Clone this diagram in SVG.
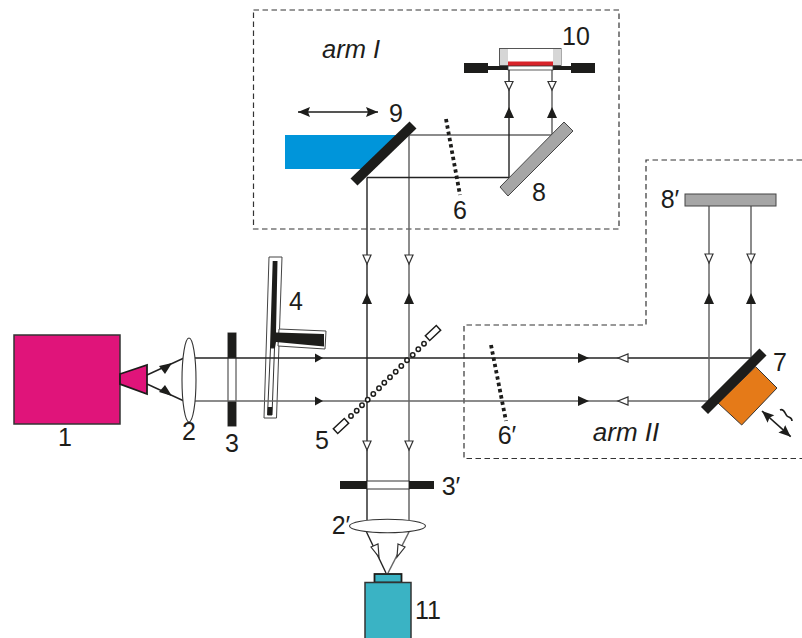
<svg xmlns="http://www.w3.org/2000/svg" width="802" height="638" viewBox="0 0 802 638">
<defs>
<marker id="bk" markerUnits="userSpaceOnUse" markerWidth="13" markerHeight="12" refX="12" refY="6" orient="auto"><path d="M0,1L12,6L0,11L2,6Z" fill="#1d1d1b"/></marker>
<marker id="bks" markerUnits="userSpaceOnUse" markerWidth="13" markerHeight="12" refX="0" refY="6" orient="auto"><path d="M12,1L0,6L12,11L10,6Z" fill="#1d1d1b"/></marker>
</defs>
<style>
text{font-family:"Liberation Sans",Arial,sans-serif;font-size:25px;fill:#1d1d1b;text-anchor:middle}
.it{font-style:italic;font-size:26px}
.dash{fill:none;stroke:#333;stroke-width:1.2;stroke-dasharray:5.5 3.5}
.b1{fill:none;stroke:#222;stroke-width:1.4}
.b2{fill:none;stroke:#666;stroke-width:1.5}
.bl{fill:#1d1d1b}
.op{fill:#fff;stroke:#333;stroke-width:1.2}
.ln{fill:#fff;stroke:#333;stroke-width:1.1}
.dots{fill:none;stroke:#1d1d1b;stroke-width:3.8;stroke-dasharray:3.4 3}
.dbl{fill:none;stroke:#1d1d1b;stroke-width:1.6}
.bsd{fill:#fff;stroke:#1d1d1b;stroke-width:1.5}
</style>
<rect width="802" height="638" fill="#fff"/>
<g id="boundaries">
<rect class="dash" x="253.5" y="10" width="365.5" height="219"/>
<path class="dash" d="M802,160H646V325H464V458.5H802"/>
</g>
<g id="node-9-slab"><path d="M285,135H402L368,169H285Z" fill="#0095da"/></g>
<g id="node-4">
<path d="M269,257L282,257L276.500,418L264,418Z" fill="#fff" stroke="#444" stroke-width="1"/>
<path d="M279,329L326,331L325,349L278,346Z" fill="#fff" stroke="#444" stroke-width="1"/>
<path class="bl" d="M272.700,261H277.500L276,332.500L324,334V346.500L276,342L275,348H270Z"/>
<path d="M270.500,348H274.500L272,415H267.500Z" fill="#fff" stroke="#333" stroke-width="1"/>
<path class="bl" d="M267.800,407H272.300L272,415H267.500Z"/>
<text x="296" y="310">4</text></g>
<g id="node-3"><rect x="228" y="333" width="8" height="93" fill="#fff" stroke="#333" stroke-width="1"/>
<rect class="bl" x="228" y="333" width="8" height="25"/><rect class="bl" x="228" y="401" width="8" height="25"/>
<text x="232" y="452">3</text></g>
<g id="connectors">
<path class="b1" d="M194,358H751"/>
<path class="b2" d="M751,358V206"/>
<path class="b2" d="M194,401H709V206"/>
<path class="b1" d="M367,177.500V520"/>
<path class="b2" d="M409,135V520"/>
<path class="b2" d="M409,135H552V68"/>
<path class="b1" d="M367,177.500H509V68"/>
<path class="b1" d="M147,375L184,358"/>
<path class="b1" d="M147,384L184,401"/>
<path class="b1" d="M366.500,532L386,573"/>
<path class="b2" d="M409,532L388,573"/>
<g class="bl">
<path d="M504,118L509,107L514,118Z"/><path d="M547,118L552,107L557,118Z"/>
<path d="M362,304L367,293L372,304Z"/><path d="M404,304L409,293L414,304Z"/>
<path d="M704,304L709,293L714,304Z"/><path d="M746,304L751,293L756,304Z"/>
<path d="M315,353.500L323,358L315,362.500Z"/><path d="M315,396.500L323,401L315,405.500Z"/>
<path d="M578,353L589,358L578,363Z"/><path d="M578,396L589,401L578,406Z"/>
<path d="M159,366L172,363L165,374Z"/><path d="M159,392L172,396L165,385Z"/>
</g>
<g class="op">
<path d="M505,81.500H513L509,90Z"/><path d="M548,81.500H556L552,90Z"/>
<path d="M363,255H371L367,264Z"/><path d="M405,255H413L409,264Z"/>
<path d="M705,254H713L709,263Z"/><path d="M747,254H755L751,263Z"/>
<path d="M363,441H371L367,450Z"/><path d="M405,441H413L409,450Z"/>
<path d="M628,354V362L618,358Z"/><path d="M628,397V405L618,401Z"/>
<path d="M371,547L378,544L379,557Z"/><path d="M398,544L405,547L397,557Z"/>
</g>
</g>
<g id="node-1"><rect x="14" y="335" width="106" height="89" fill="#e0147a" stroke="#333" stroke-width="1.5"/>
<path d="M120,374L147,365V394L120,384Z" fill="#e0147a" stroke="#1d1d1b" stroke-width="1.8"/>
<text x="65" y="446">1</text></g>
<g id="node-2"><ellipse class="ln" cx="189" cy="380" rx="7" ry="42"/><text x="189" y="440">2</text></g>
<g id="node-5">
<circle class="bsd" cx="351" cy="416" r="2.200"/><circle class="bsd" cx="356.700" cy="410.700" r="2.200"/><circle class="bsd" cx="362" cy="405.300" r="2.200"/><circle class="bsd" cx="367.700" cy="399.700" r="2.200"/><circle class="bsd" cx="373.300" cy="394" r="2.200"/><circle class="bsd" cx="379" cy="388.300" r="2.200"/><circle class="bsd" cx="384.300" cy="382.700" r="2.200"/><circle class="bsd" cx="390" cy="377.300" r="2.200"/><circle class="bsd" cx="395.700" cy="371.700" r="2.200"/><circle class="bsd" cx="401.300" cy="366" r="2.200"/><circle class="bsd" cx="407" cy="360.300" r="2.200"/><circle class="bsd" cx="412.700" cy="355" r="2.200"/><circle class="bsd" cx="418.300" cy="349.300" r="2.200"/><circle class="bsd" cx="424" cy="343.700" r="2.200"/>
<rect class="bsd" x="-7.500" y="-3.200" width="15" height="6.400" transform="translate(341,426) rotate(-43)"/>
<rect class="bsd" x="-7.500" y="-3.200" width="15" height="6.400" transform="translate(433,333) rotate(-43)"/>
<text x="322" y="449">5</text></g>
<g id="node-6"><path class="dots" d="M446,119L460,195"/><text x="460" y="219">6</text></g>
<g id="node-6p"><path class="dots" d="M491,345L506,421"/><text x="507" y="444">6′</text></g>
<g id="node-7">
<path d="M755.700,366.700L777,388L741.700,425L718,403Z" fill="#e57a18" stroke="#333" stroke-width="1"/>
<path d="M704.500,410.500L763,352" fill="none" stroke="#1d1d1b" stroke-width="10"/>
<path class="dbl" d="M762,411L790.700,436.700" marker-start="url(#bks)" marker-end="url(#bk)"/>
<path d="M780,410C784,408 785,414 787,416S792,417 792,421" fill="none" stroke="#1d1d1b" stroke-width="1.600"/>
<text x="780" y="371">7</text></g>
<g id="node-8"><path d="M500,187L508,196L573,131L564,122Z" fill="#a6a6a6" stroke="#444" stroke-width="1"/><text x="539" y="201">8</text></g>
<g id="node-8p"><rect x="685" y="194" width="91" height="12" fill="#a6a6a6" stroke="#444" stroke-width="1"/><text x="670" y="208">8′</text></g>
<g id="node-9">
<path d="M354,182L413,125" fill="none" stroke="#1d1d1b" stroke-width="10"/>
<path class="dbl" d="M298,112H378" marker-start="url(#bks)" marker-end="url(#bk)"/>
<text x="396" y="122">9</text></g>
<g id="node-10">
<rect x="499.500" y="48.500" width="61.500" height="17" fill="#fff" stroke="#555" stroke-width="1"/>
<rect x="500" y="49" width="8" height="16" fill="#d6d6d6"/><rect x="553" y="49" width="8" height="16" fill="#d6d6d6"/>
<rect x="508" y="61.500" width="45" height="4.500" fill="#d8232a"/>
<path class="bl" d="M464,63H488V66H508V70H488V73H464ZM595,63H571V66H553V70H571V73H595Z"/>
<rect x="508" y="66" width="45" height="4" fill="#fff" stroke="#333" stroke-width="0.800"/>
<text x="576" y="45">10</text></g>
<g id="node-3p"><rect x="367" y="481" width="42" height="8" fill="#fff" stroke="#333" stroke-width="1"/>
<rect class="bl" x="340" y="481" width="27" height="8"/><rect class="bl" x="409" y="481" width="25" height="8"/>
<text x="451" y="495">3′</text></g>
<g id="node-2p"><ellipse class="ln" cx="387.500" cy="526" rx="38" ry="6.800"/><text x="341" y="534">2′</text></g>
<g id="node-11"><rect x="374.500" y="574" width="27" height="8.500" fill="#3ab3c4" stroke="#1d1d1b" stroke-width="1.800"/>
<rect x="365" y="582.500" width="46" height="57" fill="#3ab3c4" stroke="#333" stroke-width="1.500"/>
<text x="428" y="619">11</text></g>
<g id="labels"><text class="it" x="351" y="58" style="font-size:25.500px">arm I</text><text class="it" x="626" y="441">arm II</text></g>
</svg>
